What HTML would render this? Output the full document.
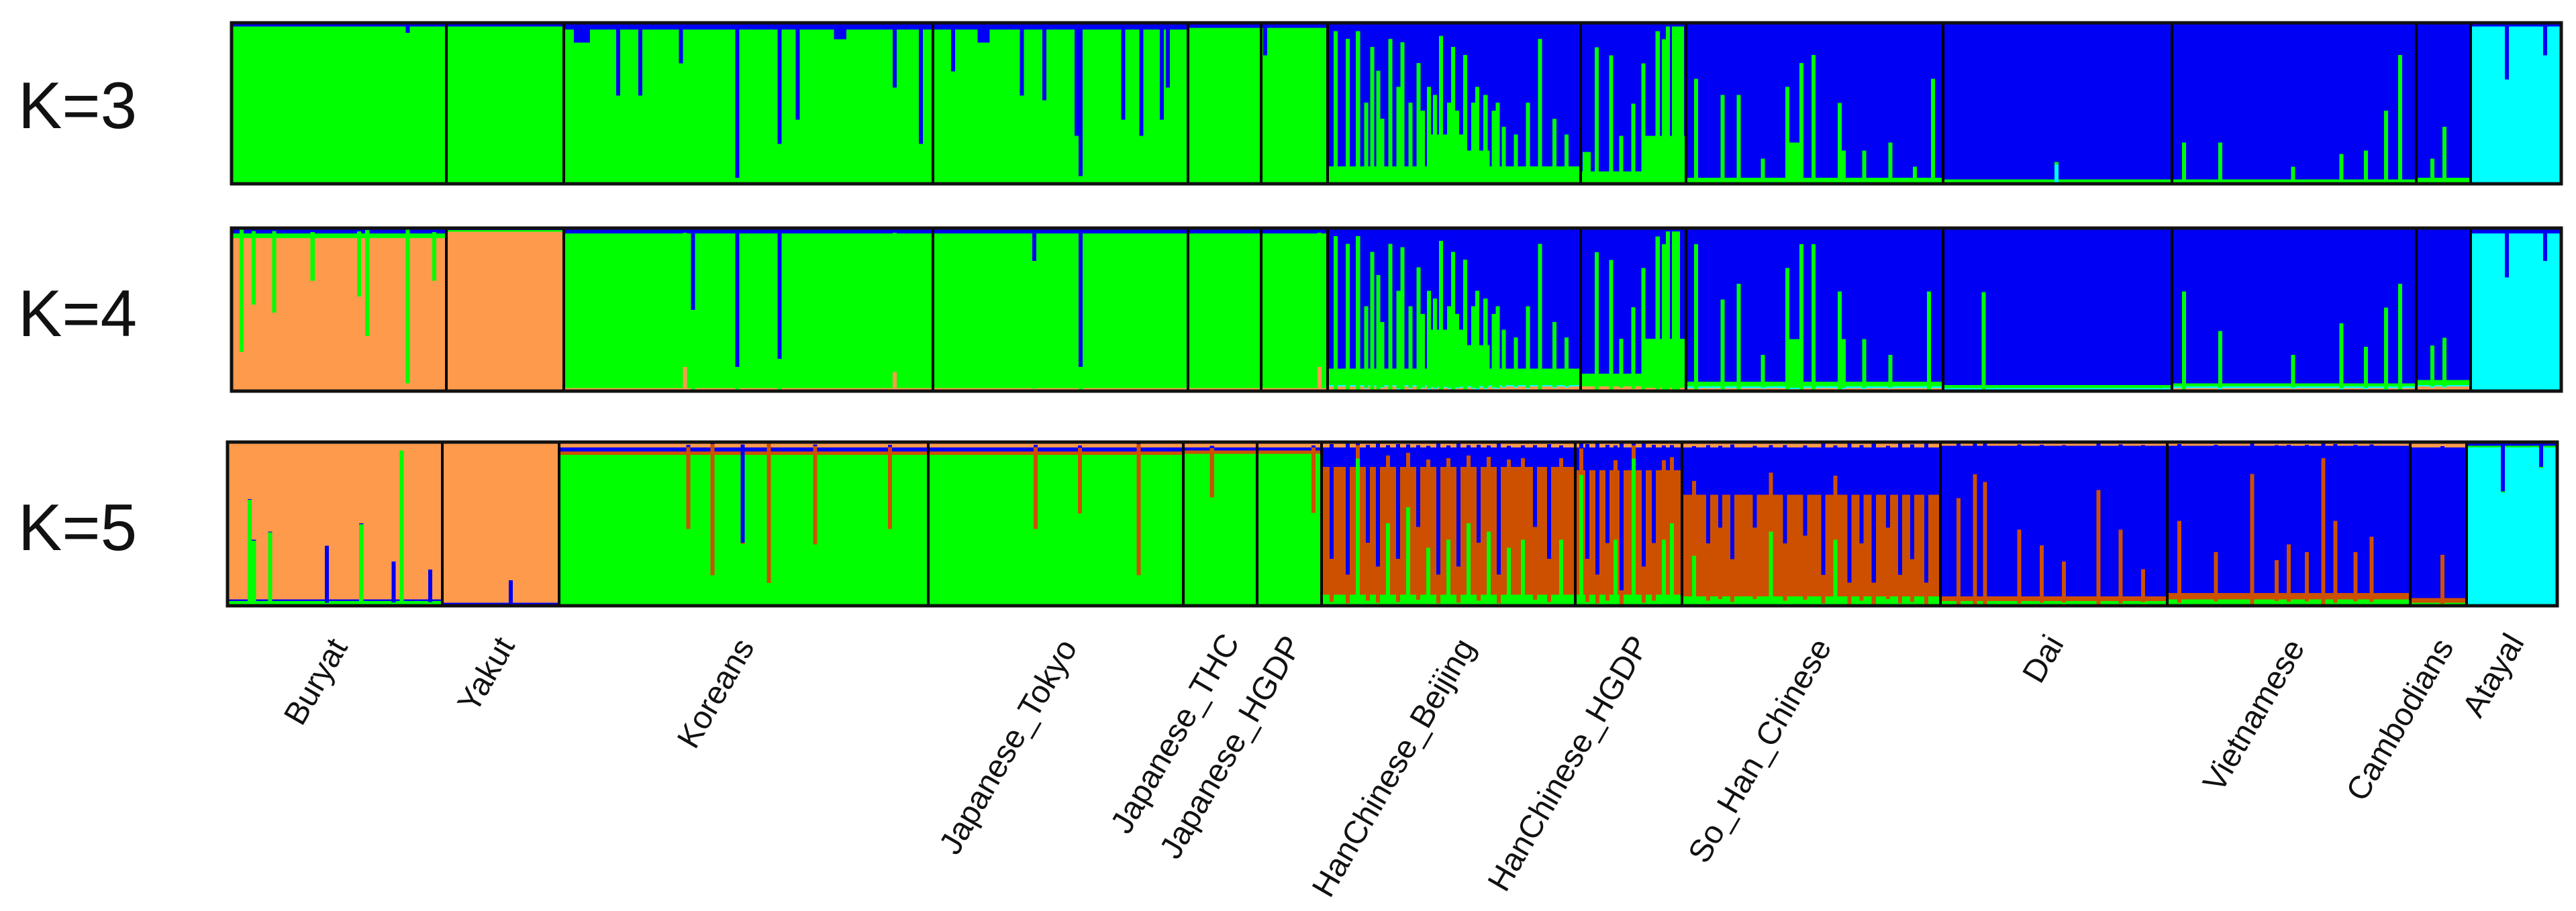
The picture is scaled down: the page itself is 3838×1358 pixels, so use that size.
<!DOCTYPE html>
<html><head><meta charset="utf-8">
<style>
html,body{margin:0;padding:0;background:#fff;}
svg{display:block;}
text{font-family:"Liberation Sans","DejaVu Sans",sans-serif;fill:#111;}
</style></head>
<body>
<svg id="chart" width="3838" height="1358" viewBox="0 0 3838 1358" xmlns="http://www.w3.org/2000/svg" shape-rendering="crispEdges">
<rect width="3838" height="1358" fill="#fff"/>
<text x="27" y="191" font-size="98">K=3</text>
<text x="27" y="501" font-size="98">K=4</text>
<text x="27" y="820" font-size="98">K=5</text>
<g id="panels"></g>
<g id="labels"></g>
</svg>
<script>
const groups = ['Buryat','Yakut','Koreans','Japanese_Tokyo','Japanese_THC','Japanese_HGDP','HanChinese_Beijing','HanChinese_HGDP','So_Han_Chinese','Dai','Vietnamese','Cambodians','Atayal'];

// spike = [position fraction, component index, amount, width in individuals (optional)]
// K=3 components (bottom-up): cyan, green, blue
const k3Base = [[0,0.98,0.02],[0,0.98,0.02],[0,0.96,0.04],[0,0.96,0.04],[0,0.97,0.03],[0,0.97,0.03],[0.01,0.1,0.89],[0,0.08,0.92],[0.01,0.03,0.96],[0.01,0.02,0.97],[0.01,0.02,0.97],[0.01,0.03,0.96],[0.98,0,0.02]];
const k3Spikes = [
 [[0.83,2,0.06]],
 [],
 [[0.15,2,0.45],[0.21,2,0.45],[0.32,2,0.25],[0.47,2,0.96],[0.59,2,0.75],[0.64,2,0.6],[0.9,2,0.4],[0.97,2,0.75],[0.05,2,0.12,8],[0.75,2,0.1,6]],
 [[0.08,2,0.3],[0.35,2,0.45],[0.44,2,0.48],[0.57,2,0.7],[0.58,2,0.95],[0.75,2,0.6],[0.82,2,0.7],[0.9,2,0.6],[0.93,2,0.4],[0.2,2,0.12,6]],
 [],
 [[0.05,2,0.2]],
 [[0.5,1,0.3,25],[0.6,1,0.2,12],[0.03,1,0.95],[0.08,1,0.9],[0.12,1,0.95],[0.15,1,0.5],[0.18,1,0.85],[0.2,1,0.7],[0.22,1,0.4],[0.25,1,0.9],[0.28,1,0.6],[0.3,1,0.88],[0.33,1,0.5],[0.36,1,0.75],[0.38,1,0.45],[0.4,1,0.6],[0.43,1,0.55],[0.45,1,0.92],[0.48,1,0.5],[0.5,1,0.85],[0.52,1,0.45],[0.55,1,0.8],[0.58,1,0.5],[0.6,1,0.6],[0.63,1,0.55],[0.66,1,0.45],[0.68,1,0.5],[0.7,1,0.35],[0.75,1,0.3],[0.8,1,0.5],[0.85,1,0.9],[0.9,1,0.4],[0.95,1,0.3]],
 [[0.85,1,0.3,20],[0.05,1,0.2,4],[0.15,1,0.85],[0.3,1,0.8],[0.4,1,0.3],[0.5,1,0.5],[0.6,1,0.75],[0.75,1,0.95],[0.8,1,0.9],[0.85,1,0.98],[0.9,1,0.98],[0.95,1,0.98],[0.98,1,0.98]],
 [[0.04,1,0.65],[0.14,1,0.55],[0.21,1,0.55],[0.3,1,0.15],[0.4,1,0.6],[0.45,1,0.75],[0.5,1,0.8],[0.42,1,0.25,6],[0.6,1,0.5],[0.62,1,0.2],[0.7,1,0.2],[0.8,1,0.25],[0.9,1,0.1],[0.97,1,0.65]],
 [[0.5,0,0.12]],
 [[0.05,1,0.25],[0.2,1,0.25],[0.5,1,0.1],[0.7,1,0.18],[0.8,1,0.2],[0.88,1,0.45],[0.94,1,0.8]],
 [[0.3,1,0.15],[0.55,1,0.35]],
 [[0.4,2,0.35],[0.85,2,0.2]]
];

// K=4 components (bottom-up): orange, cyan, green, blue
const k4Base = [[0.94,0,0.03,0.03],[0.98,0,0.01,0.01],[0.02,0,0.95,0.03],[0.02,0,0.95,0.03],[0.02,0,0.95,0.03],[0.02,0,0.95,0.03],[0.03,0.01,0.1,0.86],[0.03,0,0.08,0.89],[0.02,0.01,0.03,0.94],[0.01,0.01,0.02,0.96],[0.02,0.01,0.02,0.95],[0.03,0.01,0.03,0.93],[0,0.97,0,0.03]];
const k4Spikes = [
 [[0.05,2,0.75],[0.1,2,0.45],[0.2,2,0.5],[0.38,2,0.3],[0.6,2,0.4],[0.64,2,0.65],[0.83,2,0.95],[0.95,2,0.3]],
 [],
 [[0.33,0,0.15],[0.35,3,0.5],[0.47,3,0.85],[0.59,3,0.8],[0.9,0,0.12]],
 [[0.4,3,0.2],[0.58,3,0.85]],
 [],
 [[0.9,0,0.15]],
 [[0.5,2,0.35,25],[0.6,2,0.25,12],[0.03,2,0.95],[0.08,2,0.9],[0.12,2,0.95],[0.15,2,0.5],[0.18,2,0.85],[0.2,2,0.7],[0.22,2,0.4],[0.25,2,0.9],[0.28,2,0.6],[0.3,2,0.88],[0.33,2,0.5],[0.36,2,0.75],[0.38,2,0.45],[0.4,2,0.6],[0.43,2,0.55],[0.45,2,0.92],[0.48,2,0.5],[0.5,2,0.85],[0.52,2,0.45],[0.55,2,0.8],[0.58,2,0.5],[0.6,2,0.6],[0.63,2,0.55],[0.66,2,0.45],[0.68,2,0.5],[0.7,2,0.35],[0.75,2,0.3],[0.8,2,0.5],[0.85,2,0.9],[0.9,2,0.4],[0.95,2,0.3]],
 [[0.85,2,0.3,20],[0.15,2,0.85],[0.3,2,0.8],[0.4,2,0.3],[0.5,2,0.5],[0.6,2,0.75],[0.75,2,0.95],[0.8,2,0.9],[0.85,2,0.98],[0.9,2,0.98],[0.95,2,0.98]],
 [[0.04,2,0.9],[0.14,2,0.55],[0.21,2,0.65],[0.3,2,0.2],[0.4,2,0.75],[0.45,2,0.9],[0.5,2,0.9],[0.42,2,0.3,6],[0.6,2,0.6],[0.62,2,0.3],[0.7,2,0.3],[0.8,2,0.2],[0.95,2,0.6]],
 [[0.18,2,0.6]],
 [[0.05,2,0.6],[0.2,2,0.35],[0.5,2,0.2],[0.7,2,0.4],[0.8,2,0.25],[0.88,2,0.5],[0.94,2,0.65]],
 [[0.3,2,0.25],[0.55,2,0.3]],
 [[0.4,3,0.3],[0.85,3,0.2]]
];

// K=5 components (bottom-up): cyan, green, dark-orange, blue, light-orange
const k5Base = [[0,0.03,0,0.01,0.96],[0,0.01,0,0.01,0.98],[0.005,0.92,0.02,0.025,0.03],[0.005,0.92,0.02,0.025,0.03],[0,0.93,0.02,0.02,0.03],[0,0.93,0.02,0.02,0.03],[0.01,0.06,0.78,0.12,0.03],[0.01,0.06,0.76,0.14,0.03],[0.01,0.05,0.62,0.29,0.03],[0.01,0.02,0.03,0.92,0.02],[0.01,0.03,0.04,0.9,0.02],[0,0.02,0.03,0.92,0.03],[0.97,0.01,0,0.02,0]];
const k5Spikes = [
 [[0.1,1,0.65],[0.12,1,0.4],[0.2,1,0.45],[0.47,3,0.35],[0.63,1,0.5],[0.78,3,0.25],[0.82,1,0.95],[0.95,3,0.2]],
 [[0.6,3,0.15]],
 [[0.35,2,0.5],[0.42,2,0.8],[0.5,3,0.6],[0.57,2,0.85],[0.7,2,0.6],[0.9,2,0.5]],
 [[0.42,2,0.5],[0.6,2,0.4],[0.83,2,0.8]],
 [[0.4,2,0.3]],
 [[0.9,2,0.4]],
 [[0.04,3,0.7],[0.1,3,0.8],[0.14,1,0.9],[0.18,3,0.6],[0.22,3,0.75],[0.26,1,0.5],[0.3,3,0.7],[0.34,1,0.6],[0.38,3,0.5],[0.42,1,0.35],[0.46,3,0.8],[0.5,1,0.4],[0.54,3,0.75],[0.58,1,0.5],[0.62,3,0.6],[0.66,1,0.45],[0.7,3,0.8],[0.74,1,0.35],[0.8,1,0.4],[0.85,3,0.5],[0.9,3,0.7],[0.95,1,0.4]],
 [[0.06,1,0.8],[0.12,3,0.7],[0.22,3,0.8],[0.3,3,0.6],[0.38,1,0.4],[0.45,3,0.9],[0.55,1,0.9,2],[0.65,3,0.75],[0.75,3,0.6],[0.85,1,0.4],[0.92,1,0.5,2]],
 [[0.05,1,0.3],[0.1,3,0.6],[0.15,3,0.5],[0.2,3,0.7],[0.28,3,0.5],[0.35,1,0.45],[0.4,3,0.6],[0.48,3,0.55],[0.55,3,0.8],[0.6,1,0.4],[0.65,3,0.85],[0.7,3,0.6],[0.75,3,0.85],[0.8,3,0.5],[0.85,3,0.8],[0.9,3,0.7],[0.95,3,0.85]],
 [[0.08,2,0.65],[0.15,2,0.8],[0.2,2,0.75],[0.35,2,0.45],[0.45,2,0.35],[0.55,2,0.25],[0.7,2,0.7],[0.8,2,0.45],[0.9,2,0.2]],
 [[0.05,2,0.5],[0.2,2,0.3],[0.35,2,0.8],[0.45,2,0.25],[0.5,2,0.35],[0.58,2,0.3],[0.65,2,0.9],[0.7,2,0.5],[0.78,2,0.3],[0.85,2,0.4]],
 [[0.6,2,0.3]],
 [[0.4,3,0.3],[0.85,3,0.15]]
];

const k3Colors = ['#00ffff','#00ff00','#0000f5'];
const k4Colors = ['#fd9a4c','#00ffff','#00ff00','#0000f5'];
const k5Colors = ['#00ffff','#00ff00','#cc5000','#0000f5','#fd9a4c'];

const layoutA = [345,665,840,1390,1770,1879,1978,2355,2512,2895,3236,3600,3681,3816];
const layoutB = [339,659,833,1383,1763,1873,1969,2347,2506,2891,3229,3591,3675,3810];
const panels = [
 {name:'k3', bounds:layoutA, y0:34, y1:274, base:k3Base, spikes:k3Spikes, colors:k3Colors},
 {name:'k4', bounds:layoutA, y0:340, y1:583, base:k4Base, spikes:k4Spikes, colors:k4Colors},
 {name:'k5', bounds:layoutB, y0:659, y1:903, base:k5Base, spikes:k5Spikes, colors:k5Colors}
];
const NS = 'http://www.w3.org/2000/svg';
const W = 3;

function mk(tag, attrs){
  const e = document.createElementNS(NS, tag);
  for (const k in attrs) e.setAttribute(k, attrs[k]);
  return e;
}

const root = document.getElementById('panels');
panels.forEach(p => {
  const g = mk('g', {});
  
  
  root.appendChild(g);
  const yScale = v => (p.y1 - p.y0) * v;
  groups.forEach((gname, gi) => {
    const x0 = p.bounds[gi], x1 = p.bounds[gi+1];
    const n = Math.max(1, Math.floor((x1 - x0) / W));
    const gg = mk('g', {});
    
    
    g.appendChild(gg);
    let yb = p.y1;
    p.base[gi].forEach((v, ci) => {
      const h = yScale(v);
      if (h <= 0) return;
      const r = mk('rect', {x:x0, y:yb - h, width:x1 - x0, height:h + 0.5, fill:p.colors[ci]});
      
      
      gg.appendChild(r);
      yb -= h;
    });
    // wide (block) spikes first, then thin ones on top
    const sorted = p.spikes[gi].slice().sort((a, b) => (b[3] || 2) - (a[3] || 2));
    sorted.forEach(s => {
      const wInd = s[3] || 2;
      const idx = Math.min(n - wInd, Math.max(0, Math.round(s[0] * (n - 1) - wInd / 2)));
      const base = p.base[gi];
      const rest = 1 - base[s[1]];
      const comp = base.map((v, ci) => ci === s[1] ? s[2] : (rest > 0 ? v / rest * (1 - s[2]) : 0));
      const xi = x0 + (x1 - x0) * idx / n;
      const wpx = (x1 - x0) * wInd / n;
      let y = p.y1;
      comp.forEach((v, ci) => {
        const h = yScale(v);
        if (h <= 0) return;
        const r = mk('rect', {x:xi, y:y - h, width:wpx, height:h + 0.5, fill:p.colors[ci]});
        
        
        gg.appendChild(r);
        y -= h;
      });
    });
  });
  p.bounds.forEach((bx, i) => {
    if (i === 0 || i === p.bounds.length - 1) return;
    const l = mk('rect', {x:bx - 2, y:p.y0, width:4, height:p.y1 - p.y0, fill:'#000'});
    
    
    g.appendChild(l);
  });
  const fr = mk('rect', {x:p.bounds[0], y:p.y0, width:p.bounds[p.bounds.length-1] - p.bounds[0], height:p.y1 - p.y0, fill:'none', stroke:'#111', 'stroke-width':5});
  
  
  g.appendChild(fr);
});

const labelX = [523,772,1129,1610,1852,1945,2203,2462,2734,3080,3439,3661,3766];
const labelY = [950,948,950,951,943,946,950,946,950,945,951,950,943];
const lg = document.getElementById('labels');
groups.forEach((gname, i) => {
  const x = labelX[i] - 4, y = labelY[i] + 14;
  const t = mk('text', {x:x, y:y, 'font-size':48, 'text-anchor':'end', transform:'rotate(-60 ' + x + ' ' + y + ')'});
  
  
  t.textContent = gname;
  lg.appendChild(t);
});
</script>
</body></html>
